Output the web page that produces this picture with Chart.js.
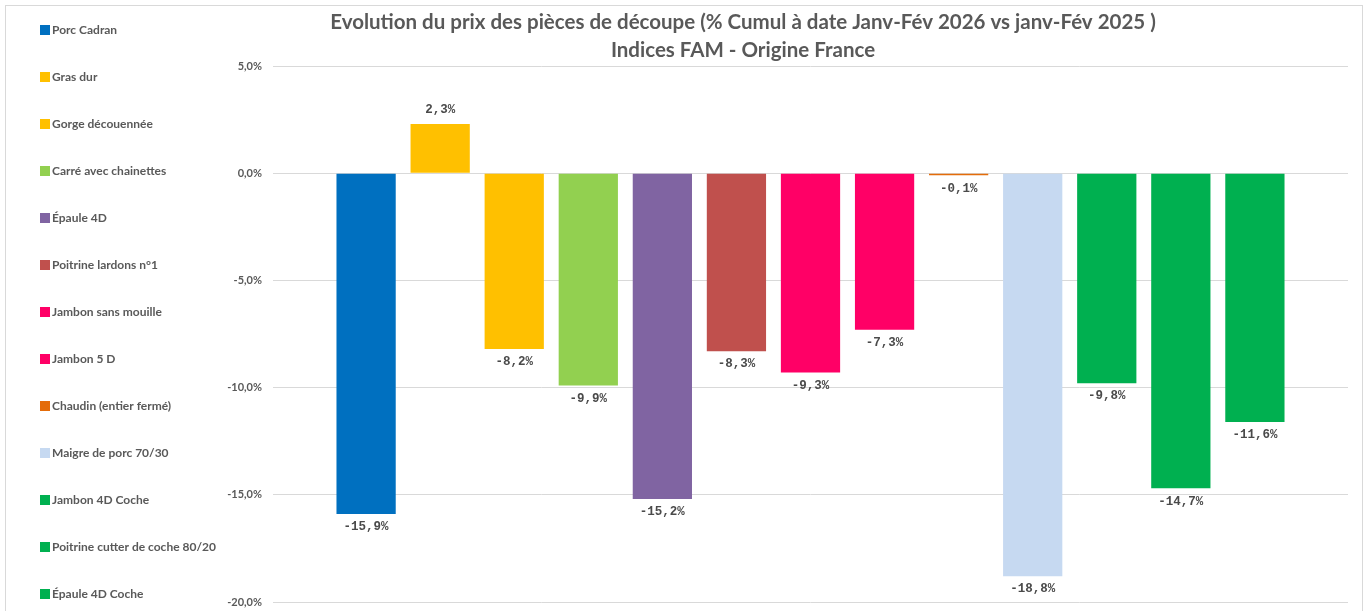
<!DOCTYPE html>
<html lang="fr">
<head>
<meta charset="utf-8">
<script src="https://cdn.jsdelivr.net/npm/chart.js@4.4.1/dist/chart.umd.min.js"></script>
<style>
  html, body { margin: 0; padding: 0; background: #fff; overflow: hidden; }
  #wrap { position: relative; width: 1370px; height: 611px; }
  #cadre {
    position: absolute; left: 5px; top: 5px;
    width: 1356px; height: 620px;
    border: 1px solid #d9d9d9;
    pointer-events: none;
  }
</style>
</head>
<body>
<div id="wrap">
  <canvas id="chart" width="1370" height="611"></canvas>
  <div id="cadre"></div>
</div>

<script>
  // pièces de découpe (ordre du graphique)
  const categories = [
    'Porc Cadran',
    'Gras dur',
    'Gorge découennée',
    'Carré avec chainettes',
    'Épaule 4D',
    'Poitrine lardons n°1',
    'Jambon sans mouille',
    'Jambon 5 D',
    'Chaudin (entier fermé)',
    'Maigre de porc 70/30',
    'Jambon 4D Coche',
    'Poitrine cutter de coche 80/20',
    'Épaule 4D Coche'
  ];

  // % cumul janv-fév 2026 vs janv-fév 2025
  const values = [-15.9, 2.3, -8.2, -9.9, -15.2, -8.3, -9.3, -7.3, -0.1, -18.8, -9.8, -14.7, -11.6];

  const colors = [
    '#0070C0', '#FFC000', '#FFC000', '#92D050', '#8064A2', '#C0504D', '#FF0066',
    '#FF0066', '#E46C0A', '#C6D9F1', '#00B050', '#00B050', '#00B050'
  ];

  const yMin = -20;
  const yMax = 5;
  const yStep = 5;

  const titre = [
    'Evolution du prix des pièces de découpe (% Cumul à date Janv-Fév 2026 vs janv-Fév 2025 )',
    'Indices FAM - Origine France'
  ];

  const gris = '#595959';

  function pct(v, d) {
    return v.toFixed(d).replace('.', ',') + '%';
  }

  // étiquettes de valeur au bout des barres
  const etiquettes = {
    id: 'etiquettes',
    afterDatasetsDraw(chart) {
      const ctx = chart.ctx;
      const meta = chart.getDatasetMeta(0);
      ctx.save();
      ctx.font = 'bold 12.5px "Liberation Mono", "DejaVu Sans Mono", monospace';
      ctx.fillStyle = '#4a4a4a';
      ctx.textAlign = 'center';
      ctx.textBaseline = 'middle';
      meta.data.forEach((bar, i) => {
        const v = values[i];
        const y = v >= 0 ? bar.y - 14 : bar.y + 13;
        ctx.fillText(pct(v, 1), bar.x, y);
      });
      ctx.restore();
    }
  };

  // légende verticale à gauche, items espacés comme dans Excel
  const legende = {
    id: 'legende',
    afterDraw(chart) {
      const ctx = chart.ctx;
      const pas = 47;
      ctx.save();
      ctx.font = 'bold 12px Lato, "Open Sans", sans-serif';
      ctx.textBaseline = 'middle';
      ctx.textAlign = 'left';
      categories.forEach((c, i) => {
        const y = 30 + i * pas;
        ctx.fillStyle = colors[i];
        ctx.fillRect(40, y - 5, 10, 10);
        ctx.fillStyle = gris;
        ctx.fillText(c, 52, y);
      });
      ctx.restore();
    }
  };

  const ctx = document.getElementById('chart').getContext('2d');
  const chart = new Chart(ctx, {
    type: 'bar',
    data: {
      datasets: [{
        data: values.map((v, i) => ({ x: i, y: v })),
        backgroundColor: colors,
        borderWidth: 0,
        categoryPercentage: 0.8,
        barPercentage: 1
      }]
    },
    options: {
      responsive: false,
      animation: false,
      devicePixelRatio: 1,
      layout: {
        padding: { left: 138, right: 22, top: 0, bottom: 9 }
      },
      plugins: {
        legend: { display: false },
        tooltip: { enabled: false },
        title: {
          display: true,
          text: titre,
          color: gris,
          font: { family: 'Lato, "Open Sans", sans-serif', size: 20.5, weight: 'bold', lineHeight: 28 / 20.5 },
          padding: { top: 8, bottom: 2 }
        }
      },
      scales: {
        x: {
          type: 'linear',
          display: false,
          offset: false,
          min: -1.257,
          max: categories.length - 1 + 1.257
        },
        y: {
          min: yMin,
          max: yMax,
          border: { display: false },
          grid: { color: '#d9d9d9', lineWidth: 1, drawTicks: false },
          afterFit(scale) {
            scale.width = 135;
            scale.paddingTop = 0;
            scale.paddingBottom = 0;
          },
          ticks: {
            stepSize: yStep,
            padding: 11,
            color: gris,
            font: { family: 'Lato, "Open Sans", sans-serif', size: 11, weight: 'bold' },
            callback: v => pct(v, 1)
          }
        }
      }
    },
    plugins: [etiquettes, legende]
  });
</script>
</body>
</html>
